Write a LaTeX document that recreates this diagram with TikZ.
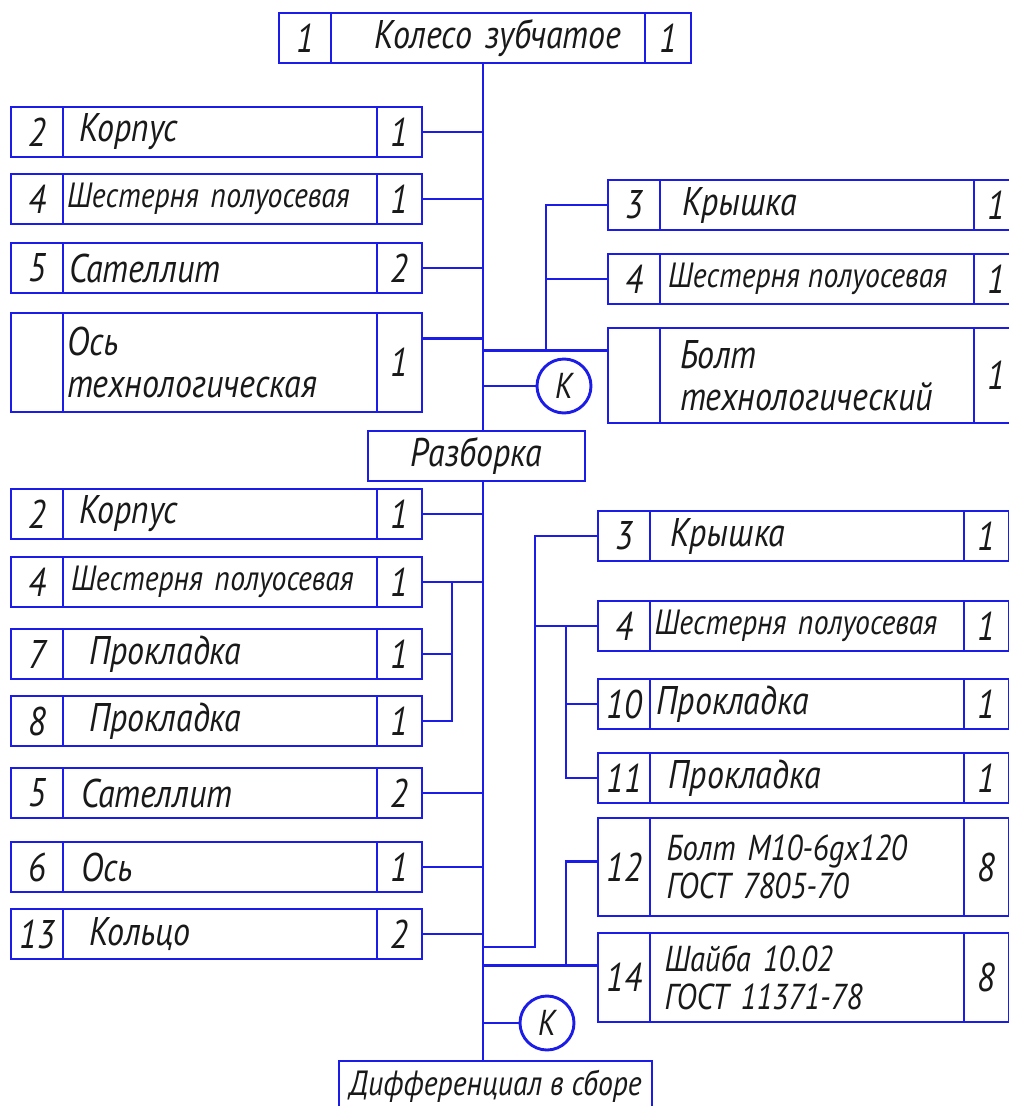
\documentclass[tikz,border=0pt]{standalone}
\usepackage{fontspec}
\newfontfamily\gostfont{PT Sans}[FakeStretch=0.85]
\usepackage{tikz}
\usetikzlibrary{positioning, calc}
\definecolor{lineblue}{RGB}{28,28,232}

\begin{document}
\begin{tikzpicture}[
        x=1pt, y=-1pt,
        node distance=0pt,
        cell/.style={
            rectangle,
            draw=lineblue,
            line width=2.9pt,
            inner sep=0pt,
            outer sep=0pt,
            minimum height=50pt,
            text=black!90,
            font=\gostfont\itshape\fontsize{40}{42}\selectfont
        },
        numcell/.style={cell, minimum width=52pt},
        namecell/.style={cell, minimum width=314pt, text width=290pt, inner xsep=12pt, align=left},
        qtycell/.style={cell, minimum width=45pt},
        stagebox/.style={cell, align=center},
        smalltext/.style={font=\gostfont\itshape\fontsize{35}{38}\selectfont},
        midtext/.style={font=\gostfont\itshape\fontsize{36}{38}\selectfont},
        kcirc/.style={
            circle,
            draw=lineblue,
            line width=2.9pt,
            minimum size=54pt,
            inner sep=0pt,
            text=black!90,
            font=\gostfont\itshape\fontsize{36}{38}\selectfont
        },
        link/.style={
            draw=lineblue,
            line width=2.9pt
        }
    ]

        \fill[white] (0,0) rectangle (1009,1106);
        \useasboundingbox (0,0) rectangle (1009,1106);

        \coordinate (axis) at (483,0);

        % top part
        \node[numcell, anchor=north west] (topn) at (279,13) {1};
        \node[namecell, right=of topn, inner xsep=0pt, text width=314pt, align=center] (topt) {\hspace{20pt}Колесо зубчатое};
        \node[qtycell, right=of topt, minimum width=46pt] (topq) {1};

        % upper left
        \node[numcell, anchor=north west] (a2n) at (11,107) {2};
        \node[namecell, right=of a2n] (a2t) {\hspace{4pt}Корпус};
        \node[qtycell, right=of a2t] (a2q) {1};

        \node[numcell, anchor=north west] (a4n) at (11,174) {4};
        \node[namecell, right=of a4n, smalltext, inner xsep=4pt, text width=306pt] (a4t) {Шестерня полуосевая};
        \node[qtycell, right=of a4t] (a4q) {1};

        \node[numcell, anchor=north west] (a5n) at (11,243) {5};
        \node[namecell, right=of a5n, inner xsep=6pt, text width=302pt] (a5t) {Сателлит};
        \node[qtycell, right=of a5t] (a5q) {2};

        \node[numcell, anchor=north west, minimum height=99pt] (a0n) at (11,313) {};
        \node[namecell, right=of a0n, minimum height=99pt, inner xsep=4pt, text width=306pt] (a0t) {Ось\\технологическая};
        \node[qtycell, right=of a0t, minimum height=99pt] (a0q) {1};

        % upper right
        \node[numcell, anchor=north west] (b3n) at (608,180) {3};
        \node[namecell, right=of b3n, inner xsep=22pt, text width=270pt] (b3t) {Крышка};
        \node[qtycell, right=of b3t] (b3q) {1};

        \node[numcell, anchor=north west] (b4n) at (608,254) {4};
        \node[namecell, right=of b4n, smalltext, inner xsep=8pt, text width=298pt] (b4t) {Шестерня\hspace{8pt}полуосевая};
        \node[qtycell, right=of b4t] (b4q) {1};

        \node[numcell, anchor=north west, minimum height=95pt] (b0n) at (608,328) {};
        \node[namecell, right=of b0n, minimum height=95pt, inner xsep=20pt, text width=274pt] (b0t) {Болт\\технологический};
        \node[qtycell, right=of b0t, minimum height=95pt] (b0q) {1};

        \node[kcirc] (k1) at (564,386) {K};

        \node[stagebox, anchor=north west, minimum width=217pt] (razb) at (368,431) {Разборка};

        % lower left
        \node[numcell, anchor=north west] (c2n) at (11,489) {2};
        \node[namecell, right=of c2n] (c2t) {\hspace{4pt}Корпус};
        \node[qtycell, right=of c2t] (c2q) {1};

        \node[numcell, anchor=north west] (c4n) at (11,557) {4};
        \node[namecell, right=of c4n, smalltext, inner xsep=8pt, text width=298pt] (c4t) {Шестерня полуосевая};
        \node[qtycell, right=of c4t] (c4q) {1};

        \node[numcell, anchor=north west] (c7n) at (11,629) {7};
        \node[namecell, right=of c7n, inner xsep=26pt, text width=262pt] (c7t) {Прокладка};
        \node[qtycell, right=of c7t] (c7q) {1};

        \node[numcell, anchor=north west] (c8n) at (11,696) {8};
        \node[namecell, right=of c8n, inner xsep=26pt, text width=262pt] (c8t) {Прокладка};
        \node[qtycell, right=of c8t] (c8q) {1};

        \node[numcell, anchor=north west] (c5n) at (11,768) {5};
        \node[namecell, right=of c5n, inner xsep=18pt, text width=278pt] (c5t) {Сателлит};
        \node[qtycell, right=of c5t] (c5q) {2};

        \node[numcell, anchor=north west] (c6n) at (11,842) {6};
        \node[namecell, right=of c6n, inner xsep=18pt, text width=278pt] (c6t) {Ось};
        \node[qtycell, right=of c6t] (c6q) {1};

        \node[numcell, anchor=north west] (c13n) at (11,909) {13};
        \node[namecell, right=of c13n, inner xsep=26pt, text width=262pt] (c13t) {Кольцо};
        \node[qtycell, right=of c13t] (c13q) {2};

        % lower right
        \node[numcell, anchor=north west] (d3n) at (598,511) {3};
        \node[namecell, right=of d3n, inner xsep=20pt, text width=273pt] (d3t) {Крышка};
        \node[qtycell, right=of d3t] (d3q) {1};

        \node[numcell, anchor=north west] (d4n) at (598,601) {4};
        \node[namecell, right=of d4n, smalltext, inner xsep=4pt, text width=305pt] (d4t) {Шестерня полуосевая};
        \node[qtycell, right=of d4t] (d4q) {1};

        \node[numcell, anchor=north west] (d10n) at (598,679) {10};
        \node[namecell, right=of d10n, inner xsep=6pt, text width=301pt] (d10t) {Прокладка};
        \node[qtycell, right=of d10t] (d10q) {1};

        \node[numcell, anchor=north west] (d11n) at (598,753) {11};
        \node[namecell, right=of d11n, inner xsep=18pt, text width=277pt] (d11t) {Прокладка};
        \node[qtycell, right=of d11t] (d11q) {1};

        \node[numcell, anchor=north west, minimum height=98pt] (d12n) at (598,818) {12};
        \node[namecell, right=of d12n, midtext, minimum height=98pt, inner xsep=16pt, text width=281pt] (d12t) {Болт М10-6gх120\\ГОСТ 7805-70};
        \node[qtycell, right=of d12t, minimum height=98pt] (d12q) {8};

        \node[numcell, anchor=north west, minimum height=89pt] (d14n) at (598,933) {14};
        \node[namecell, right=of d14n, midtext, minimum height=89pt, inner xsep=14pt, text width=285pt] (d14t) {Шайба 10.02\\ГОСТ 11371-78};
        \node[qtycell, right=of d14t, minimum height=89pt] (d14q) {8};

        \node[kcirc] (k2) at (547,1023) {K};

        \node[stagebox, smalltext, anchor=north west, minimum width=313pt] (dif) at (339,1061) {Дифференциал в сборе};

        % trunk
        \draw[link] (axis |- topt.south) -- (axis |- razb.north);
        \draw[link] (axis |- razb.south) -- (axis |- dif.north);

        % upper connectors
        \coordinate (a0c) at ($(a0q.north east)!0.26!(a0q.south east)$);
        \draw[link] (a2q.east) -- (a2q.east -| axis);
        \draw[link] (a4q.east) -- (a4q.east -| axis);
        \draw[link] (a5q.east) -- (a5q.east -| axis);
        \draw[link] (a0c) -- (a0c -| axis);

        \coordinate (bx) at (546,0);
        \coordinate (b0c) at ($(b0n.north west)!0.24!(b0n.south west)$);
        \draw[link] (b3n.west) -- (b3n.west -| bx) -- (b0c -| bx);
        \draw[link] (b4n.west) -- (b4n.west -| bx);
        \draw[link] (b0c) -- (b0c -| axis);
        \draw[link] (k1.west) -- (k1.west -| axis);

        % lower connectors
        \coordinate (cx) at (452,0);
        \draw[link] (c2q.east) -- (c2q.east -| axis);
        \draw[link] (c4q.east) -- (c4q.east -| axis);
        \draw[link] (c4q.east -| cx) -- (c8q.east -| cx) -- (c8q.east);
        \draw[link] (c7q.east) -- (c7q.east -| cx);
        \draw[link] (c5q.east) -- (c5q.east -| axis);
        \draw[link] (c6q.east) -- (c6q.east -| axis);
        \draw[link] (c13q.east) -- (c13q.east -| axis);

        \coordinate (dx) at (535,0);
        \coordinate (ex) at (566,0);
        \coordinate (j1) at (535,947);
        \coordinate (d12c) at ($(d12n.north west)!0.44!(d12n.south west)$);
        \coordinate (d14c) at ($(d14n.north west)!0.37!(d14n.south west)$);
        \draw[link] (d3n.west) -| (j1) -- (j1 -| axis);
        \draw[link] (d4n.west) -- (d4n.west -| dx);
        \draw[link] (d4n.west -| ex) -- (d11n.west -| ex) -- (d11n.west);
        \draw[link] (d10n.west) -- (d10n.west -| ex);
        \draw[link] (d12c) -- (d12c -| ex) -- (d14c -| ex);
        \draw[link] (d14c) -- (d14c -| axis);
        \draw[link] (k2.west) -- (k2.west -| axis);

    \end{tikzpicture}
\end{document}
